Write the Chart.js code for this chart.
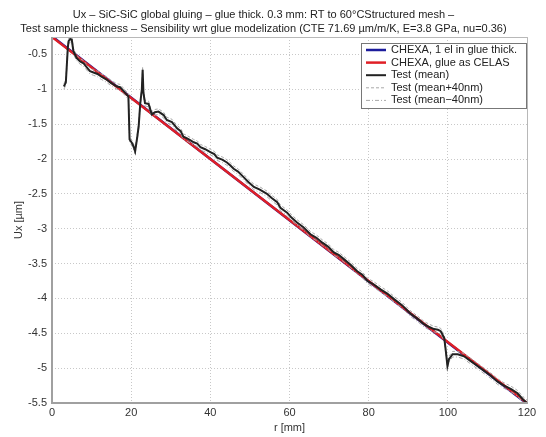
<!DOCTYPE html>
<html>
<head>
<meta charset="utf-8">
<script src="https://cdn.jsdelivr.net/npm/chart.js@4/dist/chart.umd.min.js"></script>
<style>
  html, body { margin: 0; padding: 0; background: #fff; }
  #wrap { width: 546px; height: 437px; }
</style>
</head>
<body>
<div id="wrap"><canvas id="ux"></canvas></div>
<script>
// radial position r [mm] of the measured profile
const rTest = [3.0,3.5,4.0,4.2,4.6,5.0,5.4,6.2,7.1,8.0,
  9.0,9.6,10.5,11.5,12.5,13.8,14.7,15.5,16.4,17.2,
  18.0,18.9,19.3,19.6,20.2,20.6,21.0,21.5,21.9,22.3,
  22.7,22.9,23.1,23.5,24.4,25.2,26.0,26.9,28.2,29.0,
  30.3,31.6,32.5,33.2,34.0,34.9,35.8,36.7,37.5,38.7,
  40.0,41.0,41.7,43.0,44.2,45.0,45.9,47.0,48.4,49.6,
  51.0,52.5,54.3,55.5,56.9,57.7,59.4,60.5,61.9,63.5,
  65.3,66.8,68.3,69.8,71.2,72.5,73.8,75.5,77.1,78.4,
  79.7,81.3,83.0,84.7,86.4,88.5,90.6,92.3,94.0,95.3,
  96.5,97.5,98.2,99.1,99.5,99.9,100.3,101.2,102.5,104.1,
  105.8,107.5,109.2,110.9,112.5,114.2,116.0,117.6,119.0,120.0];

// Ux [um], test mean
const uxMean = [-0.96,-0.90,-0.40,-0.31,-0.28,-0.29,-0.45,-0.55,-0.60,-0.63,
  -0.70,-0.74,-0.76,-0.78,-0.82,-0.86,-0.90,-0.93,-0.96,-0.97,
  -1.02,-1.08,-1.10,-1.72,-1.77,-1.82,-1.89,-1.70,-1.53,-1.20,
  -1.00,-0.72,-1.05,-1.20,-1.21,-1.36,-1.33,-1.32,-1.37,-1.44,
  -1.47,-1.56,-1.60,-1.68,-1.70,-1.73,-1.76,-1.78,-1.83,-1.86,
  -1.90,-1.93,-1.98,-2.01,-2.05,-2.09,-2.14,-2.18,-2.26,-2.33,
  -2.40,-2.44,-2.50,-2.56,-2.62,-2.70,-2.77,-2.84,-2.91,-2.98,
  -3.08,-3.13,-3.20,-3.26,-3.34,-3.38,-3.44,-3.52,-3.61,-3.66,
  -3.75,-3.80,-3.87,-3.93,-4.01,-4.10,-4.22,-4.29,-4.37,-4.41,
  -4.44,-4.45,-4.47,-4.57,-4.76,-4.97,-4.87,-4.80,-4.80,-4.83,
  -4.90,-4.97,-5.04,-5.11,-5.19,-5.25,-5.30,-5.36,-5.45,-5.50];

// Ux [um], test mean + 40 nm
const uxPlus = [-0.92,-0.86,-0.36,-0.27,-0.24,-0.25,-0.41,-0.51,-0.56,-0.59,
  -0.66,-0.70,-0.72,-0.74,-0.78,-0.82,-0.86,-0.89,-0.92,-0.93,
  -0.98,-1.04,-1.06,-1.68,-1.73,-1.78,-1.85,-1.66,-1.49,-1.16,
  -0.96,-0.68,-1.01,-1.16,-1.17,-1.32,-1.29,-1.28,-1.33,-1.40,
  -1.43,-1.52,-1.56,-1.64,-1.66,-1.69,-1.72,-1.74,-1.79,-1.82,
  -1.86,-1.89,-1.94,-1.97,-2.01,-2.05,-2.10,-2.14,-2.22,-2.29,
  -2.36,-2.40,-2.46,-2.52,-2.58,-2.66,-2.73,-2.80,-2.87,-2.94,
  -3.04,-3.09,-3.16,-3.22,-3.30,-3.34,-3.40,-3.48,-3.57,-3.62,
  -3.71,-3.76,-3.83,-3.89,-3.97,-4.06,-4.18,-4.25,-4.33,-4.37,
  -4.40,-4.41,-4.43,-4.53,-4.72,-4.93,-4.83,-4.76,-4.76,-4.79,
  -4.86,-4.93,-5.00,-5.07,-5.15,-5.21,-5.26,-5.32,-5.41,-5.46];

// Ux [um], test mean - 40 nm
const uxMinus = [-1.00,-0.94,-0.44,-0.35,-0.32,-0.33,-0.49,-0.59,-0.64,-0.67,
  -0.74,-0.78,-0.80,-0.82,-0.86,-0.90,-0.94,-0.97,-1.00,-1.01,
  -1.06,-1.12,-1.14,-1.76,-1.81,-1.86,-1.93,-1.74,-1.57,-1.24,
  -1.04,-0.76,-1.09,-1.24,-1.25,-1.40,-1.37,-1.36,-1.41,-1.48,
  -1.51,-1.60,-1.64,-1.72,-1.74,-1.77,-1.80,-1.82,-1.87,-1.90,
  -1.94,-1.97,-2.02,-2.05,-2.09,-2.13,-2.18,-2.22,-2.30,-2.37,
  -2.44,-2.48,-2.54,-2.60,-2.66,-2.74,-2.81,-2.88,-2.95,-3.02,
  -3.12,-3.17,-3.24,-3.30,-3.38,-3.42,-3.48,-3.56,-3.65,-3.70,
  -3.79,-3.84,-3.91,-3.97,-4.05,-4.14,-4.26,-4.33,-4.41,-4.45,
  -4.48,-4.49,-4.51,-4.61,-4.80,-5.01,-4.91,-4.84,-4.84,-4.87,
  -4.94,-5.01,-5.08,-5.15,-5.23,-5.29,-5.34,-5.40,-5.49,-5.54];

// FE models
const rHexa = [0, 60, 120];
const uxHexa = [-0.24, -2.88, -5.51];
const rCelas = [0, 120];
const uxCelas = [-0.25, -5.50];

const xTicks = [0, 20, 40, 60, 80, 100, 120];
const yTicks = [-5.5, -5, -4.5, -4, -3.5, -3, -2.5, -2, -1.5, -1, -0.5];

const titleLines = [
  'Ux \u2013 SiC-SiC global gluing \u2013 glue thick. 0.3 mm: RT to 60\u00b0CStructured mesh \u2013',
  'Test sample thickness \u2013 Sensibility wrt glue modelization (CTE 71.69 \u00b5m/m/K, E=3.8 GPa, nu=0.36)'
];

const FONT = '"Liberation Sans", Arial, sans-serif';

function pts(xs, ys) {
  return xs.map((x, i) => ({ x: x, y: ys[i] }));
}

// axes box (solid) + legend box inside the axes
const framePlugin = {
  id: 'frame',
  afterDatasetsDraw(chart) {
    const { ctx, chartArea: a } = chart;
    ctx.save();
    ctx.strokeStyle = '#b8b8b8';
    ctx.lineWidth = 1;
    ctx.beginPath();
    ctx.moveTo(a.left, a.top + 0.5);
    ctx.lineTo(a.right + 0.5, a.top + 0.5);
    ctx.lineTo(a.right + 0.5, a.bottom);
    ctx.stroke();
    ctx.strokeStyle = '#a0a0a0';
    ctx.lineWidth = 2;
    ctx.beginPath();
    ctx.moveTo(a.left, a.top);
    ctx.lineTo(a.left, a.bottom);
    ctx.lineTo(a.right + 1, a.bottom);
    ctx.stroke();
    ctx.restore();
  },
  afterDraw(chart) {
    const { ctx } = chart;
    const bx = 361, by = 43, bw = 165, bh = 65;
    ctx.save();
    ctx.fillStyle = '#fff';
    ctx.fillRect(bx, by, bw, bh);
    ctx.strokeStyle = '#777';
    ctx.lineWidth = 1;
    ctx.strokeRect(bx + 0.5, by + 0.5, bw, bh);
    ctx.font = '11px ' + FONT;
    ctx.textBaseline = 'middle';
    chart.data.datasets.forEach((ds, i) => {
      const y = by + 7 + i * 12.6;
      ctx.strokeStyle = ds.borderColor;
      ctx.lineWidth = ds.borderWidth;
      ctx.setLineDash(ds.borderDash || []);
      ctx.beginPath();
      ctx.moveTo(bx + 5, y);
      ctx.lineTo(bx + 25, y);
      ctx.stroke();
      ctx.setLineDash([]);
      ctx.fillStyle = '#222';
      ctx.fillText(ds.label, bx + 30, y);
    });
    ctx.restore();
  }
};

new Chart(document.getElementById('ux'), {
  type: 'line',
  data: {
    datasets: [
      { label: 'CHEXA, 1 el in glue thick.', data: pts(rHexa, uxHexa),
        borderColor: '#1c1c9c', borderWidth: 2.5, order: 3 },
      { label: 'CHEXA, glue as CELAS', data: pts(rCelas, uxCelas),
        borderColor: '#e01f26', borderWidth: 2.5, order: 2 },
      { label: 'Test (mean)', data: pts(rTest, uxMean),
        borderColor: '#222222', borderWidth: 2, order: 0 },
      { label: 'Test (mean+40nm)', data: pts(rTest, uxPlus),
        borderColor: '#a8a8a8', borderWidth: 1, borderDash: [3, 2], order: 1 },
      { label: 'Test (mean\u221240nm)', data: pts(rTest, uxMinus),
        borderColor: '#a8a8a8', borderWidth: 1, borderDash: [4, 2, 1, 2], order: 1 }
    ]
  },
  options: {
    responsive: true,
    maintainAspectRatio: false,
    animation: false,
    elements: { point: { radius: 0 }, line: { tension: 0 } },
    layout: { padding: { left: 0, right: 19, top: 0, bottom: 0 } },
    plugins: {
      legend: { display: false },
      tooltip: { enabled: false },
      title: {
        display: true,
        text: titleLines,
        color: '#222',
        font: { family: FONT, size: 11, weight: 'normal', lineHeight: 1.25 },
        padding: { top: 8, bottom: 1.5 }
      }
    },
    scales: {
      x: {
        type: 'linear',
        min: 0, max: 120,
        afterBuildTicks: s => { s.ticks = xTicks.map(v => ({ value: v })); },
        afterFit: s => { s.height = 34; },
        grid: { color: '#c8c8c8', drawTicks: false },
        border: { display: false, dash: [1, 2] },
        ticks: { color: '#333', font: { family: FONT, size: 11 }, padding: 3, maxRotation: 0 },
        title: { display: true, text: 'r [mm]', color: '#333',
          font: { family: FONT, size: 11 }, padding: { top: 0, bottom: 2 } }
      },
      y: {
        type: 'linear',
        min: -5.5, max: -0.25,
        afterBuildTicks: s => { s.ticks = yTicks.map(v => ({ value: v })); },
        afterFit: s => { s.width = 52; },
        grid: { color: '#c8c8c8', drawTicks: false },
        border: { display: false, dash: [1, 2] },
        ticks: { color: '#333', font: { family: FONT, size: 11 }, padding: 5,
          callback: v => String(v) },
        title: { display: true, text: 'Ux [\u00b5m]', color: '#333',
          font: { family: FONT, size: 11 }, padding: { top: 12, bottom: 0 } }
      }
    }
  },
  plugins: [framePlugin]
});
</script>
</body>
</html>
